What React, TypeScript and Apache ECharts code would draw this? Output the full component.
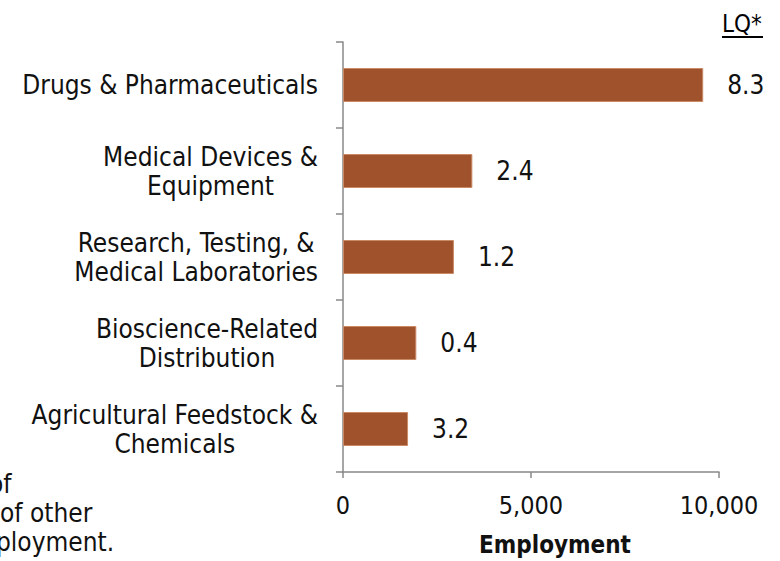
import React, { useEffect, useRef } from "react";
import * as echarts from "echarts";

const categories = [
  "Drugs & Pharmaceuticals",
  "Medical Devices &\nEquipment",
  "Research, Testing, &\nMedical Laboratories",
  "Bioscience-Related\nDistribution",
  "Agricultural Feedstock &\nChemicals",
];
const employment = [9580, 3440, 2950, 1950, 1730];
const lq = [8.3, 2.4, 1.2, 0.4, 3.2];
const xMin = 0;
const xMax = 10000;
const xInterval = 5000;
const footnoteLines = ["of", "of other", "ployment."];

const FONT = '"DejaVu Sans Condensed", "DejaVu Sans", sans-serif';
const AXIS = "#888888";
const BAR = "#A0522D";

export default function App() {
  const ref = useRef<HTMLDivElement>(null);
  useEffect(() => {
    if (!ref.current) return;
    const chart = echarts.init(ref.current, null, { renderer: "svg" });
    chart.setOption({
      animation: false,
      backgroundColor: "#ffffff",
      grid: { left: 343, right: 61, top: 42, bottom: 89, containLabel: false },
      xAxis: {
        type: "value",
        min: xMin,
        max: xMax,
        interval: xInterval,
        splitLine: { show: false },
        axisLine: { show: true, lineStyle: { color: AXIS, width: 1.5 } },
        axisTick: { show: true, length: 6, lineStyle: { color: AXIS, width: 1.5 } },
        axisLabel: {
          margin: 21,
          fontFamily: FONT,
          fontSize: 25,
          color: "#111111",
          formatter: (v: number) => v.toLocaleString("en-US"),
        },
      },
      yAxis: {
        type: "category",
        data: categories,
        inverse: true,
        axisLine: { show: true, lineStyle: { color: AXIS, width: 1.5 } },
        axisTick: { show: true, length: 7, lineStyle: { color: AXIS, width: 1.5 } },
        axisLabel: {
          margin: 25,
          fontFamily: FONT,
          fontSize: 26,
          lineHeight: 29,
          color: "#111111",
          align: "right",
          formatter: (v: string) =>
            v
              .split("\n")
              .map((l) => `{c|${l}}`)
              .join("\n"),
          rich: {
            c: {
              align: "center",
              fontFamily: FONT,
              fontSize: 26,
              lineHeight: 29,
              color: "#111111",
            },
          },
        },
      },
      series: [
        {
          type: "bar",
          data: employment,
          barWidth: 34,
          itemStyle: { color: BAR, borderColor: "#c98a66", borderWidth: 1 },
          label: {
            show: true,
            position: "right",
            distance: 24,
            fontFamily: FONT,
            fontSize: 26,
            color: "#111111",
            formatter: (p: any) => lq[p.dataIndex].toFixed(1),
          },
        },
      ],
      graphic: [
        {
          type: "text",
          x: 722,
          y: 36,
          style: {
            text: "LQ*",
            font: `24px ${FONT}`,
            fill: "#000000",
            textVerticalAlign: "bottom",
          },
        },
        {
          type: "line",
          shape: { x1: 722, y1: 37, x2: 763, y2: 37 },
          style: { stroke: "#000000", lineWidth: 2 },
        },
        {
          type: "text",
          x: 555,
          y: 545,
          style: {
            text: "Employment",
            font: `bold 24px ${FONT}`,
            fill: "#111111",
            textAlign: "center",
            textVerticalAlign: "middle",
          },
        },
        {
          type: "text",
          x: -11,
          y: 484,
          style: { text: footnoteLines[0], font: `26px ${FONT}`, fill: "#111111", textVerticalAlign: "middle" },
        },
        {
          type: "text",
          x: 0,
          y: 513,
          style: { text: footnoteLines[1], font: `26px ${FONT}`, fill: "#111111", textVerticalAlign: "middle" },
        },
        {
          type: "text",
          x: -4,
          y: 542,
          style: { text: footnoteLines[2], font: `26px ${FONT}`, fill: "#111111", textVerticalAlign: "middle" },
        },
      ],
    });
    return () => chart.dispose();
  }, []);
  return (
    <div
      ref={ref}
      style={{ position: "fixed", left: 0, top: 0, width: 780, height: 561, overflow: "hidden" }}
    />
  );
}
